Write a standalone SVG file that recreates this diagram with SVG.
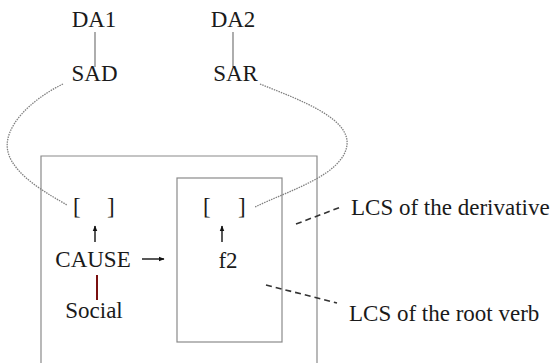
<svg xmlns="http://www.w3.org/2000/svg" width="557" height="363" viewBox="0 0 557 363">
<defs>
<style>
text{font-family:"Liberation Serif","Times New Roman",serif;font-size:23px;fill:#1a1a1a}
.c{text-anchor:middle}
.box{fill:none;stroke:#8a8a8a;stroke-width:1.2}
.dot{fill:none;stroke:#808080;stroke-width:1.3;stroke-dasharray:1.5 1}
.lead{fill:none;stroke:#333;stroke-width:1.6;stroke-dasharray:6 4}
.tree{stroke:#777;stroke-width:1.2}
.arr{stroke:#111;stroke-width:1.4}
</style>
<marker id="ah" viewBox="0 0 10 10" refX="9" refY="5" markerWidth="6" markerHeight="6" markerUnits="userSpaceOnUse" orient="auto">
<path d="M0,1 L10,5 L0,9 z" fill="#111"/>
</marker>
</defs>
<rect width="557" height="363" fill="#fff"/>
<g id="outer-box"><path class="box" d="M41,364 V156 H317 V364"/></g>
<g id="inner-box"><rect class="box" x="177" y="178" width="105" height="164"/></g>
<g id="connectors">
<line class="tree" x1="95" y1="32" x2="95" y2="67"/>
<line class="tree" x1="233" y1="32" x2="233" y2="67"/>
<path class="dot" d="M63,84 C30,100 2,128 8,152 C14,176 50,195 67,205"/>
<path class="dot" d="M260,84 C300,100 350,118 347,145 C343,175 290,190 255,207"/>
<line class="arr" x1="95" y1="242" x2="95" y2="226" marker-end="url(#ah)"/>
<line class="arr" x1="222" y1="242" x2="222" y2="226" marker-end="url(#ah)"/>
<line class="arr" x1="142" y1="259" x2="164" y2="259" marker-end="url(#ah)"/>
<line x1="97" y1="275" x2="97" y2="300" stroke="#7a1010" stroke-width="2"/>
<line class="lead" x1="296" y1="224" x2="341" y2="207"/>
<line class="lead" x1="266" y1="285" x2="337" y2="303"/>
</g>
<g id="DA1"><text class="c" x="94" y="27">DA1</text></g>
<g id="DA2"><text class="c" x="233" y="27">DA2</text></g>
<g id="SAD"><text class="c" x="94.5" y="81">SAD</text></g>
<g id="SAR"><text class="c" x="235.5" y="81">SAR</text></g>
<g id="bracket1"><text><tspan x="73" y="214">[</tspan><tspan x="107" y="214">]</tspan></text></g>
<g id="bracket2"><text><tspan x="203" y="214">[</tspan><tspan x="238" y="214">]</tspan></text></g>
<g id="CAUSE"><text class="c" x="93" y="267">CAUSE</text></g>
<g id="f2"><text class="c" x="228" y="268">f2</text></g>
<g id="Social"><text class="c" x="94" y="318">Social</text></g>
<g id="label-derivative"><text x="351" y="215">LCS of the derivative</text></g>
<g id="label-root"><text x="349" y="321">LCS of the root verb</text></g>
</svg>
